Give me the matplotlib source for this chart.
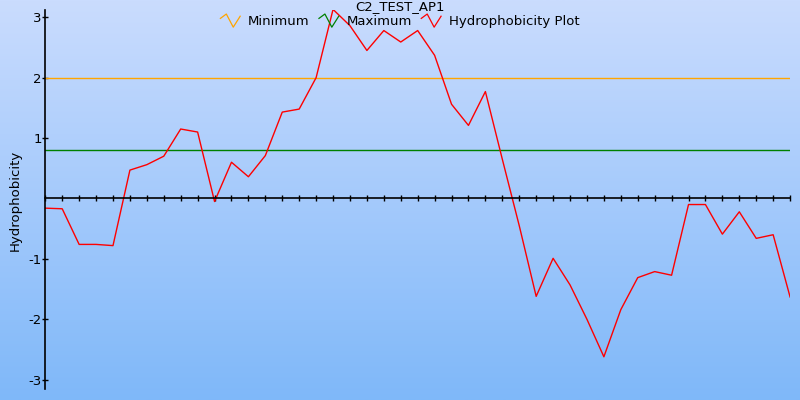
import numpy as np
import matplotlib
matplotlib.use("Agg")
import matplotlib.pyplot as plt
from matplotlib.lines import Line2D
from matplotlib.legend_handler import HandlerBase

# hydrophobicity values per position
hydro = [-0.16, -0.17, -0.76, -0.76, -0.78, 0.47, 0.56, 0.70, 1.15, 1.10,
         -0.05, 0.60, 0.36, 0.71, 1.43, 1.48, 2.00, 3.13, 2.86, 2.45,
         2.78, 2.59, 2.78, 2.37, 1.56, 1.21, 1.77, 0.65, -0.45, -1.62,
         -0.99, -1.43, -2.00, -2.62, -1.84, -1.31, -1.21, -1.27, -0.10, -0.10,
         -0.59, -0.22, -0.66, -0.60, -1.63]
minimum = 2.0
maximum = 0.8
ytick_vals = [-3, -2, -1, 1, 2, 3]
title = "C2_TEST_AP1"
labels = ["Minimum", "Maximum", "Hydrophobicity Plot"]
colors = ["#ffa500", "#008000", "#ff0000"]


class ZigZag(HandlerBase):
    # small zigzag icon like the original legend
    def create_artists(self, legend, orig, xd, yd, w, h, fs, trans):
        xs = np.array([0.0, 0.3, 0.65, 1.0]) * w - xd
        ys = np.array([0.7, 1.1, -0.1, 0.9]) * h - yd
        ln = Line2D(xs, ys, color=orig.get_color(), lw=0.9, transform=trans)
        return [ln]


fig = plt.figure(figsize=(8, 4), dpi=100)

# gradient background
bg = fig.add_axes([0, 0, 1, 1], zorder=-10)
top = np.array([202, 220, 254]) / 255
bot = np.array([127, 184, 249]) / 255
t = np.linspace(0, 1, 256)[:, None]
grad = (top[None, :] * (1 - t) + bot[None, :] * t)[:, None, :]
bg.imshow(grad, aspect="auto", extent=[0, 1, 0, 1])
bg.axis("off")

ax = fig.add_axes([0.0566, 0.028, 0.931, 0.947])
ax.patch.set_alpha(0)

pos = np.arange(1, len(hydro) + 1)
ax.axhline(minimum, color=colors[0], lw=1)
ax.axhline(maximum, color=colors[1], lw=1)
ax.plot(pos, hydro, color=colors[2], lw=1)

ax.set_xlim(1, len(hydro))
ax.set_ylim(-3.15, 3.12)

ax.spines["top"].set_visible(False)
ax.spines["right"].set_visible(False)
ax.spines["bottom"].set_position(("data", 0))
ax.spines["left"].set_linewidth(1.2)
ax.spines["bottom"].set_linewidth(1.2)

ax.set_xticks(pos)
ax.set_xticklabels([])
ax.tick_params(axis="x", direction="inout", length=5, width=1)
ax.set_yticks(ytick_vals)
ax.set_yticklabels([str(v) for v in ytick_vals])
ax.tick_params(axis="y", direction="inout", length=5, width=1, pad=0, labelsize=9.5)

fig.text(0.019, 0.5, "Hydrophobicity", rotation=90, va="center", ha="center", fontsize=9.5)
fig.text(0.5, 1.0, title, ha="center", va="top", fontsize=9.5)

handles = [Line2D([], [], color=c) for c in colors]
fig.legend(handles, labels, loc="upper center", bbox_to_anchor=(0.5, 0.982), ncol=3,
           frameon=False, fontsize=9.5, handlelength=1.5, handleheight=0.9,
           handletextpad=0.6, columnspacing=0.7, borderpad=0.1,
           handler_map={Line2D: ZigZag()})

fig.savefig("out.png", dpi=100)
